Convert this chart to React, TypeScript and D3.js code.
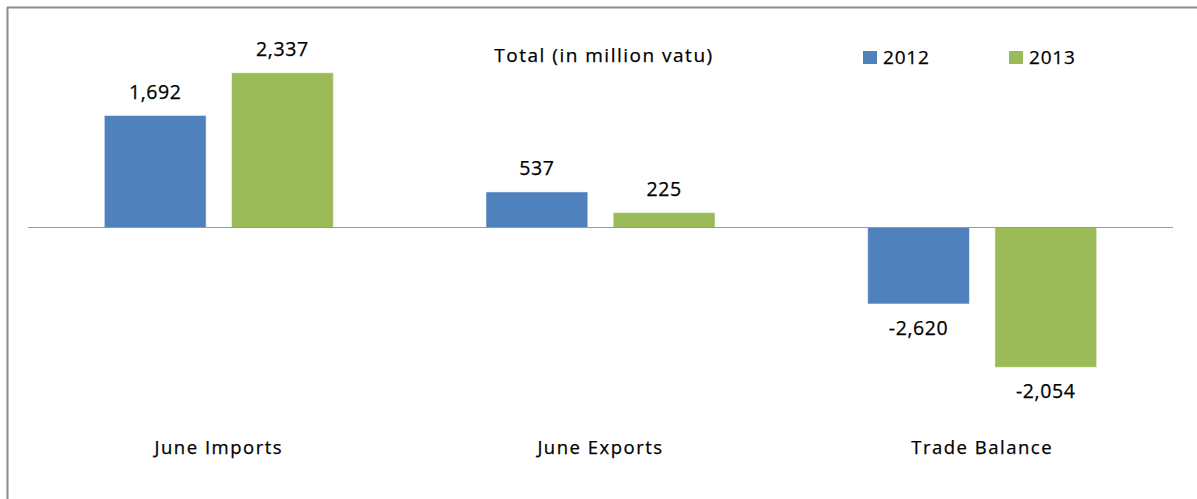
import React from "react";
import * as d3 from "d3";

const categories = ["June Imports", "June Exports", "Trade Balance"];
const seriesNames = ["2012", "2013"];
const values2012 = [1692, 537, -1155];
const values2013 = [2337, 225, -2112];
const labels2012 = ["1,692", "537", "-2,620"];
const labels2013 = ["2,337", "225", "-2,054"];
const title = "Total (in million vatu)";
const colors = ["#4F81BD", "#9BBB59"];

const W = 1197;
const H = 499;
const FONT = "'Open Sans', 'Noto Sans', sans-serif";

export default function App() {
  const x = d3.scaleBand<string>().domain(categories).range([28, 1173]).paddingInner(0).paddingOuter(0);
  const bw = x.bandwidth();
  const barW = bw / 3.75;
  const gap = barW * 0.25;
  const y = d3.scaleLinear().domain([-3000, 3000]).range([426.1, 28.9]);
  const y0 = y(0);
  const series = [values2012, values2013];
  const labels = [labels2012, labels2013];

  return (
    <svg width={W} height={H} style={{ position: "absolute", left: 0, top: 0 }}>
      <rect x={0} y={0} width={W} height={H} fill="#fff" />
      {/* frame */}
      <line x1={7.5} y1={7} x2={7.5} y2={H} stroke="#8c8c8c" strokeWidth={2} />
      <line x1={7} y1={7.5} x2={W} y2={7.5} stroke="#8c8c8c" strokeWidth={2} />

      {series.map((vals, s) =>
        vals.map((v, i) => {
          const cx = (x(categories[i]) as number) + bw / 2;
          const bx = cx - gap / 2 - barW + s * (barW + gap);
          const top = Math.min(y(v), y0);
          const h = Math.abs(y(v) - y0);
          const lx = bx + barW / 2;
          const ly = v >= 0 ? y(v) - 16.5 : y(v) + 31;
          return (
            <g key={`${s}-${i}`}>
              <rect x={bx} y={top} width={barW} height={h} fill={colors[s]} stroke="#ffffff" strokeOpacity={0.5} strokeWidth={1} />
              <text x={lx} y={ly} textAnchor="middle" fontFamily={FONT} fontSize={19.5} letterSpacing={0.6} fill="#000" stroke="#000" strokeWidth={0.25}>
                {labels[s][i]}
              </text>
            </g>
          );
        })
      )}

      {/* zero axis */}
      <line x1={28} x2={1173} y1={y0} y2={y0} stroke="#989898" strokeWidth={1.2} />

      {categories.map((c) => (
        <text key={c} x={(x(c) as number) + bw / 2} y={454} textAnchor="middle" fontFamily={FONT} fontSize={18.5} letterSpacing={1.5} fill="#000" stroke="#000" strokeWidth={0.25}>
          {c}
        </text>
      ))}

      <text x={604} y={62} textAnchor="middle" fontFamily={FONT} fontSize={19} letterSpacing={1.5} fill="#000" stroke="#000" strokeWidth={0.25}>
        {title}
      </text>

      {seriesNames.map((n, i) => (
        <g key={n}>
          <rect x={863 + i * 146} y={51} width={14} height={13} fill={colors[i]} />
          <text x={883 + i * 146} y={64} fontFamily={FONT} fontSize={19} letterSpacing={0.8} fill="#000" stroke="#000" strokeWidth={0.25}>
            {n}
          </text>
        </g>
      ))}
    </svg>
  );
}
